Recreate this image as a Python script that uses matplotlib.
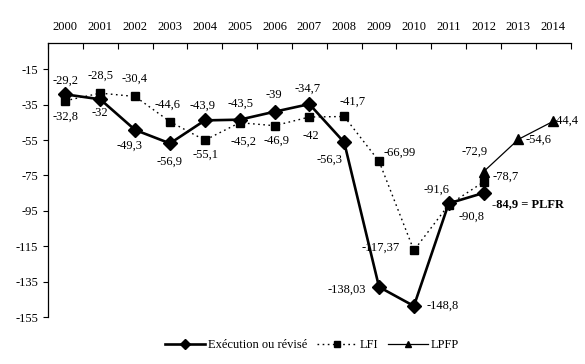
import matplotlib
matplotlib.use("Agg")
import matplotlib.pyplot as plt
import numpy as np

plt.rcParams['font.family'] = ['Liberation Serif', 'DejaVu Serif']
plt.rcParams['font.size'] = 9

years = [str(y) for y in range(2000, 2015)]
execution = [-29.2, -32, -49.3, -56.9, -43.9, -43.5, -39, -34.7, -56.3, -138.03, -148.8, -90.8, -84.9, None, None]
lfi = [-32.8, -28.5, -30.4, -44.6, -55.1, -45.2, -46.9, -42, -41.7, -66.99, -117.37, -91.6, -78.7, None, None]
lpfp = [None] * 12 + [-72.9, -54.6, -44.4]

exec_labels = ["-29,2", "-32", "-49,3", "-56,9", "-43,9", "-43,5", "-39", "-34,7", "-56,3",
               "-138,03", "-148,8", "-90,8", "-84,9 = PLFR"]
lfi_labels = ["-32,8", "-28,5", "-30,4", "-44,6", "-55,1", "-45,2", "-46,9", "-42", "-41,7",
              "-66,99", "-117,37", "-91,6", "-78,7"]
lpfp_labels = ["-72,9", "-54,6", "-44,4"]

fig = plt.figure(figsize=(5.85, 3.64), dpi=100)
ax = fig.add_axes([48/585, 1-317/364, (570.7-48)/585, (317-42.7)/364])

x = np.arange(len(years))
def arr(v):
    return np.array([np.nan if a is None else a for a in v], dtype=float)

ex = arr(execution); lf = arr(lfi); lp = arr(lpfp)

ax.plot(x, lf, color='black', lw=1.0, ls=(0, (1.2, 2.5)), marker='s', ms=5.5, zorder=3, label='LFI')
ax.plot(x, lp, color='black', lw=0.9, ls='-', marker='^', ms=6.5, zorder=3, label='LPFP')
ax.plot(x, ex, color='black', lw=1.9, ls='-', marker='D', ms=7, zorder=4, label='Exécution ou révisé')

# label offsets (pixels)
exec_off = [(0, 14), (0, -14), (-6, -16), (0, -18), (-2, 15), (1, 16), (-1, 17), (-2, 15), (-15, -17),
            (-32, -3), (29, 0), (23, -13), (40, -11)]
lfi_off = [(0, -16), (0, 17), (-1, 18), (-2, 17), (1, -15), (4, -19), (2, -15), (1, -19), (8, 15),
           (21, 9), (-33, 3), (-12, 15), (22, 5)]
lpfp_off = [(-9, 20), (20, 0), (0, 0)]

def ann(xi, yi, txt, off, **kw):
    ax.annotate(txt, (xi, yi), xytext=off, textcoords='offset pixels',
                ha=kw.pop('ha', 'center'), va='center', fontsize=9, **kw)

for i, t in enumerate(exec_labels):
    if i == 12:
        ax.annotate(t, (x[i], ex[i]), xytext=(8, -11), textcoords='offset pixels',
                    ha='left', va='center', fontsize=9, fontweight='bold')
    else:
        ann(x[i], ex[i], t, exec_off[i])
for i, t in enumerate(lfi_labels):
    ann(x[i], lf[i], t, lfi_off[i])
for j, t in enumerate(lpfp_labels):
    i = 12 + j
    if j == 2:
        ax.annotate(t, (x[i], lp[i]), xytext=(-1, 1), textcoords='offset pixels',
                    ha='left', va='center', fontsize=9, zorder=1)
    else:
        ann(x[i], lp[i], t, lpfp_off[j])

ax.set_xlim(-0.5, 14.5)
ax.set_ylim(-155, 0)
ax.set_yticks(np.arange(-155, 0, 20))
ax.set_yticklabels([str(v) for v in np.arange(-155, 0, 20)])
ax.set_xticks(np.arange(-0.5, 15, 1))
ax.set_xticklabels([])
ax.set_xticks(x, minor=True)
ax.set_xticklabels(years, minor=True)
ax.xaxis.tick_top()
ax.tick_params(axis='x', which='major', direction='in', length=4, width=0.8, top=True, bottom=False)
ax.tick_params(axis='x', which='minor', length=0, top=True, bottom=False, labeltop=True, labelbottom=False, pad=7)
ax.tick_params(axis='y', direction='out', length=3.5, width=0.8, labelsize=9, pad=3.5)
ax.spines['right'].set_visible(False)
ax.spines['bottom'].set_visible(False)
ax.spines['top'].set_linewidth(0.9)
ax.spines['left'].set_linewidth(0.9)

h, l = ax.get_legend_handles_labels()
order = [2, 0, 1]
fig.legend([h[k] for k in order], [l[k] for k in order], loc='center', ncol=3,
           bbox_to_anchor=(312/585, 1-345/364), frameon=False, fontsize=9,
           handlelength=3.2, columnspacing=0.8, handletextpad=0.2, markerscale=0.7)

fig.savefig('out.png', dpi=100)
